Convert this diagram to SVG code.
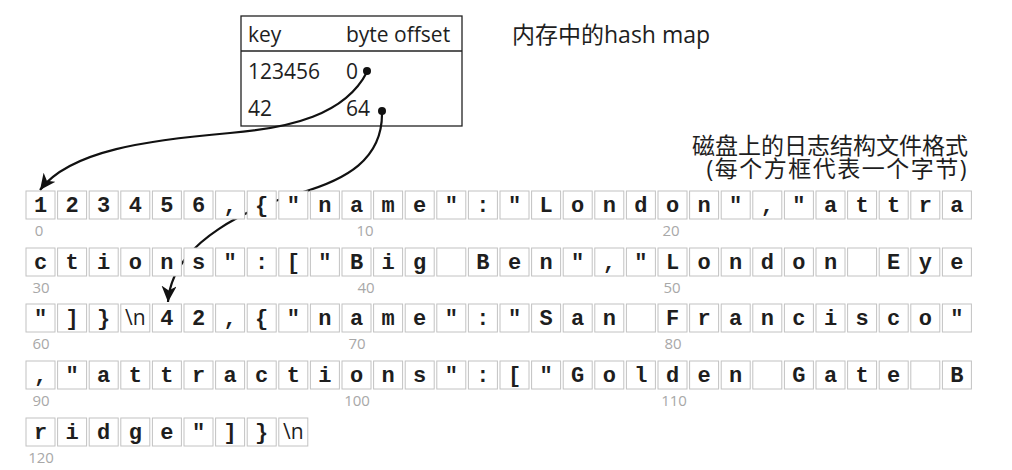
<svg xmlns="http://www.w3.org/2000/svg" xmlns:xlink="http://www.w3.org/1999/xlink" width="1012" height="470" viewBox="0 0 1012 470">
<style>
.ch{font-family:"Liberation Mono","DejaVu Sans Mono",monospace;font-weight:bold;font-size:22px;fill:#1e1e1e;text-anchor:middle}
.nl{font-family:"Open Sans","Noto Sans",sans-serif;font-size:21px;fill:#1e1e1e;text-anchor:middle}
.idx{font-family:"Open Sans","Noto Sans",sans-serif;font-size:15px;fill:#a8a8a8;text-anchor:middle}
.tb{font-family:"Open Sans","Noto Sans",sans-serif;font-size:21px;fill:#1e1e1e}
.cap{font-family:"Open Sans","Noto Sans CJK SC",sans-serif;font-size:23px;fill:#1e1e1e}
.conn{fill:none;stroke:#111;stroke-width:2.2}
.dot{fill:#111}
</style>
<defs>
<rect id="box" width="29" height="28" fill="#ffffff" stroke="#c2c2c2" stroke-width="1"/>
<marker id="ah" markerUnits="userSpaceOnUse" markerWidth="17" markerHeight="15" viewBox="0 0 17 15" refX="16" refY="7.5" orient="auto">
<path d="M16,7.5 L0,0 L4.5,7.5 L0,15 Z" fill="#111"/>
</marker>
</defs>
<rect x="0" y="0" width="1012" height="470" fill="#ffffff"/>

<g id="hashmap">
<rect x="241" y="16" width="221" height="110" fill="#fff" stroke="#222" stroke-width="1.3"/>
<line x1="241" y1="51" x2="462" y2="51" stroke="#222" stroke-width="1.3"/>
<text class="tb" x="248" y="42">key</text>
<text class="tb" x="346" y="42">byte offset</text>
<text class="tb" x="248" y="79">123456</text>
<text class="tb" x="346" y="79">0</text>
<text class="tb" x="248" y="116">42</text>
<text class="tb" x="346" y="116">64</text>
</g>

<g id="label-hashmap"><text class="cap" x="512" y="43" font-size="22">内存中的hash map</text></g>
<g id="label-disk">
<text class="cap" x="968" y="154" text-anchor="end">磁盘上的日志结构文件格式</text>
<text class="cap" x="968" y="177" text-anchor="end" letter-spacing="1.5">(每个方框代表一个字节)</text>
</g>

<g id="connectors">
<path class="conn" d="M367,72 C345,115 290,128 230,133 C150,140 70,150 40,190" marker-end="url(#ah)"/>
<path class="conn" d="M382,112 C383,160 345,180 300,193 C255,206 172,240 168,302" marker-end="url(#ah)"/>
<circle class="dot" cx="367" cy="71" r="4"/>
<circle class="dot" cx="382" cy="111" r="4"/>
</g>

<g id="row-0">
<g id="b0"><use xlink:href="#box" x="26" y="191"/><text class="ch" x="40.5" y="212">1</text></g>
<g id="b1"><use xlink:href="#box" x="57.6" y="191"/><text class="ch" x="72.1" y="212">2</text></g>
<g id="b2"><use xlink:href="#box" x="89.2" y="191"/><text class="ch" x="103.7" y="212">3</text></g>
<g id="b3"><use xlink:href="#box" x="120.8" y="191"/><text class="ch" x="135.3" y="212">4</text></g>
<g id="b4"><use xlink:href="#box" x="152.4" y="191"/><text class="ch" x="166.9" y="212">5</text></g>
<g id="b5"><use xlink:href="#box" x="184" y="191"/><text class="ch" x="198.5" y="212">6</text></g>
<g id="b6"><use xlink:href="#box" x="215.6" y="191"/><text class="ch" x="230.1" y="212">,</text></g>
<g id="b7"><use xlink:href="#box" x="247.2" y="191"/><text class="ch" x="261.7" y="212">{</text></g>
<g id="b8"><use xlink:href="#box" x="278.8" y="191"/><text class="ch" x="293.3" y="212">"</text></g>
<g id="b9"><use xlink:href="#box" x="310.4" y="191"/><text class="ch" x="324.9" y="212">n</text></g>
<g id="b10"><use xlink:href="#box" x="342" y="191"/><text class="ch" x="356.5" y="212">a</text></g>
<g id="b11"><use xlink:href="#box" x="373.6" y="191"/><text class="ch" x="388.1" y="212">m</text></g>
<g id="b12"><use xlink:href="#box" x="405.2" y="191"/><text class="ch" x="419.7" y="212">e</text></g>
<g id="b13"><use xlink:href="#box" x="436.8" y="191"/><text class="ch" x="451.3" y="212">"</text></g>
<g id="b14"><use xlink:href="#box" x="468.4" y="191"/><text class="ch" x="482.9" y="212">:</text></g>
<g id="b15"><use xlink:href="#box" x="500" y="191"/><text class="ch" x="514.5" y="212">"</text></g>
<g id="b16"><use xlink:href="#box" x="531.6" y="191"/><text class="ch" x="546.1" y="212">L</text></g>
<g id="b17"><use xlink:href="#box" x="563.2" y="191"/><text class="ch" x="577.7" y="212">o</text></g>
<g id="b18"><use xlink:href="#box" x="594.8" y="191"/><text class="ch" x="609.3" y="212">n</text></g>
<g id="b19"><use xlink:href="#box" x="626.4" y="191"/><text class="ch" x="640.9" y="212">d</text></g>
<g id="b20"><use xlink:href="#box" x="658" y="191"/><text class="ch" x="672.5" y="212">o</text></g>
<g id="b21"><use xlink:href="#box" x="689.6" y="191"/><text class="ch" x="704.1" y="212">n</text></g>
<g id="b22"><use xlink:href="#box" x="721.2" y="191"/><text class="ch" x="735.7" y="212">"</text></g>
<g id="b23"><use xlink:href="#box" x="752.8" y="191"/><text class="ch" x="767.3" y="212">,</text></g>
<g id="b24"><use xlink:href="#box" x="784.4" y="191"/><text class="ch" x="798.9" y="212">"</text></g>
<g id="b25"><use xlink:href="#box" x="816" y="191"/><text class="ch" x="830.5" y="212">a</text></g>
<g id="b26"><use xlink:href="#box" x="847.6" y="191"/><text class="ch" x="862.1" y="212">t</text></g>
<g id="b27"><use xlink:href="#box" x="879.2" y="191"/><text class="ch" x="893.7" y="212">t</text></g>
<g id="b28"><use xlink:href="#box" x="910.8" y="191"/><text class="ch" x="925.3" y="212">r</text></g>
<g id="b29"><use xlink:href="#box" x="942.4" y="191"/><text class="ch" x="956.9" y="212">a</text></g>
<text class="idx" x="39" y="236">0</text>
<text class="idx" x="365" y="236">10</text>
<text class="idx" x="671" y="236">20</text>
</g>

<g id="row-1">
<g id="b30"><use xlink:href="#box" x="26" y="248"/><text class="ch" x="40.5" y="269">c</text></g>
<g id="b31"><use xlink:href="#box" x="57.6" y="248"/><text class="ch" x="72.1" y="269">t</text></g>
<g id="b32"><use xlink:href="#box" x="89.2" y="248"/><text class="ch" x="103.7" y="269">i</text></g>
<g id="b33"><use xlink:href="#box" x="120.8" y="248"/><text class="ch" x="135.3" y="269">o</text></g>
<g id="b34"><use xlink:href="#box" x="152.4" y="248"/><text class="ch" x="166.9" y="269">n</text></g>
<g id="b35"><use xlink:href="#box" x="184" y="248"/><text class="ch" x="198.5" y="269">s</text></g>
<g id="b36"><use xlink:href="#box" x="215.6" y="248"/><text class="ch" x="230.1" y="269">"</text></g>
<g id="b37"><use xlink:href="#box" x="247.2" y="248"/><text class="ch" x="261.7" y="269">:</text></g>
<g id="b38"><use xlink:href="#box" x="278.8" y="248"/><text class="ch" x="293.3" y="269">[</text></g>
<g id="b39"><use xlink:href="#box" x="310.4" y="248"/><text class="ch" x="324.9" y="269">"</text></g>
<g id="b40"><use xlink:href="#box" x="342" y="248"/><text class="ch" x="356.5" y="269">B</text></g>
<g id="b41"><use xlink:href="#box" x="373.6" y="248"/><text class="ch" x="388.1" y="269">i</text></g>
<g id="b42"><use xlink:href="#box" x="405.2" y="248"/><text class="ch" x="419.7" y="269">g</text></g>
<g id="b43"><use xlink:href="#box" x="436.8" y="248"/></g>
<g id="b44"><use xlink:href="#box" x="468.4" y="248"/><text class="ch" x="482.9" y="269">B</text></g>
<g id="b45"><use xlink:href="#box" x="500" y="248"/><text class="ch" x="514.5" y="269">e</text></g>
<g id="b46"><use xlink:href="#box" x="531.6" y="248"/><text class="ch" x="546.1" y="269">n</text></g>
<g id="b47"><use xlink:href="#box" x="563.2" y="248"/><text class="ch" x="577.7" y="269">"</text></g>
<g id="b48"><use xlink:href="#box" x="594.8" y="248"/><text class="ch" x="609.3" y="269">,</text></g>
<g id="b49"><use xlink:href="#box" x="626.4" y="248"/><text class="ch" x="640.9" y="269">"</text></g>
<g id="b50"><use xlink:href="#box" x="658" y="248"/><text class="ch" x="672.5" y="269">L</text></g>
<g id="b51"><use xlink:href="#box" x="689.6" y="248"/><text class="ch" x="704.1" y="269">o</text></g>
<g id="b52"><use xlink:href="#box" x="721.2" y="248"/><text class="ch" x="735.7" y="269">n</text></g>
<g id="b53"><use xlink:href="#box" x="752.8" y="248"/><text class="ch" x="767.3" y="269">d</text></g>
<g id="b54"><use xlink:href="#box" x="784.4" y="248"/><text class="ch" x="798.9" y="269">o</text></g>
<g id="b55"><use xlink:href="#box" x="816" y="248"/><text class="ch" x="830.5" y="269">n</text></g>
<g id="b56"><use xlink:href="#box" x="847.6" y="248"/></g>
<g id="b57"><use xlink:href="#box" x="879.2" y="248"/><text class="ch" x="893.7" y="269">E</text></g>
<g id="b58"><use xlink:href="#box" x="910.8" y="248"/><text class="ch" x="925.3" y="269">y</text></g>
<g id="b59"><use xlink:href="#box" x="942.4" y="248"/><text class="ch" x="956.9" y="269">e</text></g>
<text class="idx" x="41" y="293">30</text>
<text class="idx" x="366" y="293">40</text>
<text class="idx" x="672" y="293">50</text>
</g>

<g id="row-2">
<g id="b60"><use xlink:href="#box" x="26" y="304"/><text class="ch" x="40.5" y="325">"</text></g>
<g id="b61"><use xlink:href="#box" x="57.6" y="304"/><text class="ch" x="72.1" y="325">]</text></g>
<g id="b62"><use xlink:href="#box" x="89.2" y="304"/><text class="ch" x="103.7" y="325">}</text></g>
<g id="b63"><use xlink:href="#box" x="120.8" y="304"/><text class="nl" x="135.3" y="325">\n</text></g>
<g id="b64"><use xlink:href="#box" x="152.4" y="304"/><text class="ch" x="166.9" y="325">4</text></g>
<g id="b65"><use xlink:href="#box" x="184" y="304"/><text class="ch" x="198.5" y="325">2</text></g>
<g id="b66"><use xlink:href="#box" x="215.6" y="304"/><text class="ch" x="230.1" y="325">,</text></g>
<g id="b67"><use xlink:href="#box" x="247.2" y="304"/><text class="ch" x="261.7" y="325">{</text></g>
<g id="b68"><use xlink:href="#box" x="278.8" y="304"/><text class="ch" x="293.3" y="325">"</text></g>
<g id="b69"><use xlink:href="#box" x="310.4" y="304"/><text class="ch" x="324.9" y="325">n</text></g>
<g id="b70"><use xlink:href="#box" x="342" y="304"/><text class="ch" x="356.5" y="325">a</text></g>
<g id="b71"><use xlink:href="#box" x="373.6" y="304"/><text class="ch" x="388.1" y="325">m</text></g>
<g id="b72"><use xlink:href="#box" x="405.2" y="304"/><text class="ch" x="419.7" y="325">e</text></g>
<g id="b73"><use xlink:href="#box" x="436.8" y="304"/><text class="ch" x="451.3" y="325">"</text></g>
<g id="b74"><use xlink:href="#box" x="468.4" y="304"/><text class="ch" x="482.9" y="325">:</text></g>
<g id="b75"><use xlink:href="#box" x="500" y="304"/><text class="ch" x="514.5" y="325">"</text></g>
<g id="b76"><use xlink:href="#box" x="531.6" y="304"/><text class="ch" x="546.1" y="325">S</text></g>
<g id="b77"><use xlink:href="#box" x="563.2" y="304"/><text class="ch" x="577.7" y="325">a</text></g>
<g id="b78"><use xlink:href="#box" x="594.8" y="304"/><text class="ch" x="609.3" y="325">n</text></g>
<g id="b79"><use xlink:href="#box" x="626.4" y="304"/></g>
<g id="b80"><use xlink:href="#box" x="658" y="304"/><text class="ch" x="672.5" y="325">F</text></g>
<g id="b81"><use xlink:href="#box" x="689.6" y="304"/><text class="ch" x="704.1" y="325">r</text></g>
<g id="b82"><use xlink:href="#box" x="721.2" y="304"/><text class="ch" x="735.7" y="325">a</text></g>
<g id="b83"><use xlink:href="#box" x="752.8" y="304"/><text class="ch" x="767.3" y="325">n</text></g>
<g id="b84"><use xlink:href="#box" x="784.4" y="304"/><text class="ch" x="798.9" y="325">c</text></g>
<g id="b85"><use xlink:href="#box" x="816" y="304"/><text class="ch" x="830.5" y="325">i</text></g>
<g id="b86"><use xlink:href="#box" x="847.6" y="304"/><text class="ch" x="862.1" y="325">s</text></g>
<g id="b87"><use xlink:href="#box" x="879.2" y="304"/><text class="ch" x="893.7" y="325">c</text></g>
<g id="b88"><use xlink:href="#box" x="910.8" y="304"/><text class="ch" x="925.3" y="325">o</text></g>
<g id="b89"><use xlink:href="#box" x="942.4" y="304"/><text class="ch" x="956.9" y="325">"</text></g>
<text class="idx" x="41" y="349">60</text>
<text class="idx" x="357" y="349">70</text>
<text class="idx" x="673" y="349">80</text>
</g>

<g id="row-3">
<g id="b90"><use xlink:href="#box" x="26" y="361"/><text class="ch" x="40.5" y="382">,</text></g>
<g id="b91"><use xlink:href="#box" x="57.6" y="361"/><text class="ch" x="72.1" y="382">"</text></g>
<g id="b92"><use xlink:href="#box" x="89.2" y="361"/><text class="ch" x="103.7" y="382">a</text></g>
<g id="b93"><use xlink:href="#box" x="120.8" y="361"/><text class="ch" x="135.3" y="382">t</text></g>
<g id="b94"><use xlink:href="#box" x="152.4" y="361"/><text class="ch" x="166.9" y="382">t</text></g>
<g id="b95"><use xlink:href="#box" x="184" y="361"/><text class="ch" x="198.5" y="382">r</text></g>
<g id="b96"><use xlink:href="#box" x="215.6" y="361"/><text class="ch" x="230.1" y="382">a</text></g>
<g id="b97"><use xlink:href="#box" x="247.2" y="361"/><text class="ch" x="261.7" y="382">c</text></g>
<g id="b98"><use xlink:href="#box" x="278.8" y="361"/><text class="ch" x="293.3" y="382">t</text></g>
<g id="b99"><use xlink:href="#box" x="310.4" y="361"/><text class="ch" x="324.9" y="382">i</text></g>
<g id="b100"><use xlink:href="#box" x="342" y="361"/><text class="ch" x="356.5" y="382">o</text></g>
<g id="b101"><use xlink:href="#box" x="373.6" y="361"/><text class="ch" x="388.1" y="382">n</text></g>
<g id="b102"><use xlink:href="#box" x="405.2" y="361"/><text class="ch" x="419.7" y="382">s</text></g>
<g id="b103"><use xlink:href="#box" x="436.8" y="361"/><text class="ch" x="451.3" y="382">"</text></g>
<g id="b104"><use xlink:href="#box" x="468.4" y="361"/><text class="ch" x="482.9" y="382">:</text></g>
<g id="b105"><use xlink:href="#box" x="500" y="361"/><text class="ch" x="514.5" y="382">[</text></g>
<g id="b106"><use xlink:href="#box" x="531.6" y="361"/><text class="ch" x="546.1" y="382">"</text></g>
<g id="b107"><use xlink:href="#box" x="563.2" y="361"/><text class="ch" x="577.7" y="382">G</text></g>
<g id="b108"><use xlink:href="#box" x="594.8" y="361"/><text class="ch" x="609.3" y="382">o</text></g>
<g id="b109"><use xlink:href="#box" x="626.4" y="361"/><text class="ch" x="640.9" y="382">l</text></g>
<g id="b110"><use xlink:href="#box" x="658" y="361"/><text class="ch" x="672.5" y="382">d</text></g>
<g id="b111"><use xlink:href="#box" x="689.6" y="361"/><text class="ch" x="704.1" y="382">e</text></g>
<g id="b112"><use xlink:href="#box" x="721.2" y="361"/><text class="ch" x="735.7" y="382">n</text></g>
<g id="b113"><use xlink:href="#box" x="752.8" y="361"/></g>
<g id="b114"><use xlink:href="#box" x="784.4" y="361"/><text class="ch" x="798.9" y="382">G</text></g>
<g id="b115"><use xlink:href="#box" x="816" y="361"/><text class="ch" x="830.5" y="382">a</text></g>
<g id="b116"><use xlink:href="#box" x="847.6" y="361"/><text class="ch" x="862.1" y="382">t</text></g>
<g id="b117"><use xlink:href="#box" x="879.2" y="361"/><text class="ch" x="893.7" y="382">e</text></g>
<g id="b118"><use xlink:href="#box" x="910.8" y="361"/></g>
<g id="b119"><use xlink:href="#box" x="942.4" y="361"/><text class="ch" x="956.9" y="382">B</text></g>
<text class="idx" x="41" y="406">90</text>
<text class="idx" x="357" y="406">100</text>
<text class="idx" x="674" y="406">110</text>
</g>

<g id="row-4">
<g id="b120"><use xlink:href="#box" x="26" y="418"/><text class="ch" x="40.5" y="439">r</text></g>
<g id="b121"><use xlink:href="#box" x="57.6" y="418"/><text class="ch" x="72.1" y="439">i</text></g>
<g id="b122"><use xlink:href="#box" x="89.2" y="418"/><text class="ch" x="103.7" y="439">d</text></g>
<g id="b123"><use xlink:href="#box" x="120.8" y="418"/><text class="ch" x="135.3" y="439">g</text></g>
<g id="b124"><use xlink:href="#box" x="152.4" y="418"/><text class="ch" x="166.9" y="439">e</text></g>
<g id="b125"><use xlink:href="#box" x="184" y="418"/><text class="ch" x="198.5" y="439">"</text></g>
<g id="b126"><use xlink:href="#box" x="215.6" y="418"/><text class="ch" x="230.1" y="439">]</text></g>
<g id="b127"><use xlink:href="#box" x="247.2" y="418"/><text class="ch" x="261.7" y="439">}</text></g>
<g id="b128"><use xlink:href="#box" x="278.8" y="418"/><text class="nl" x="293.3" y="439">\n</text></g>
<text class="idx" x="41" y="463">120</text>
</g>
</svg>
